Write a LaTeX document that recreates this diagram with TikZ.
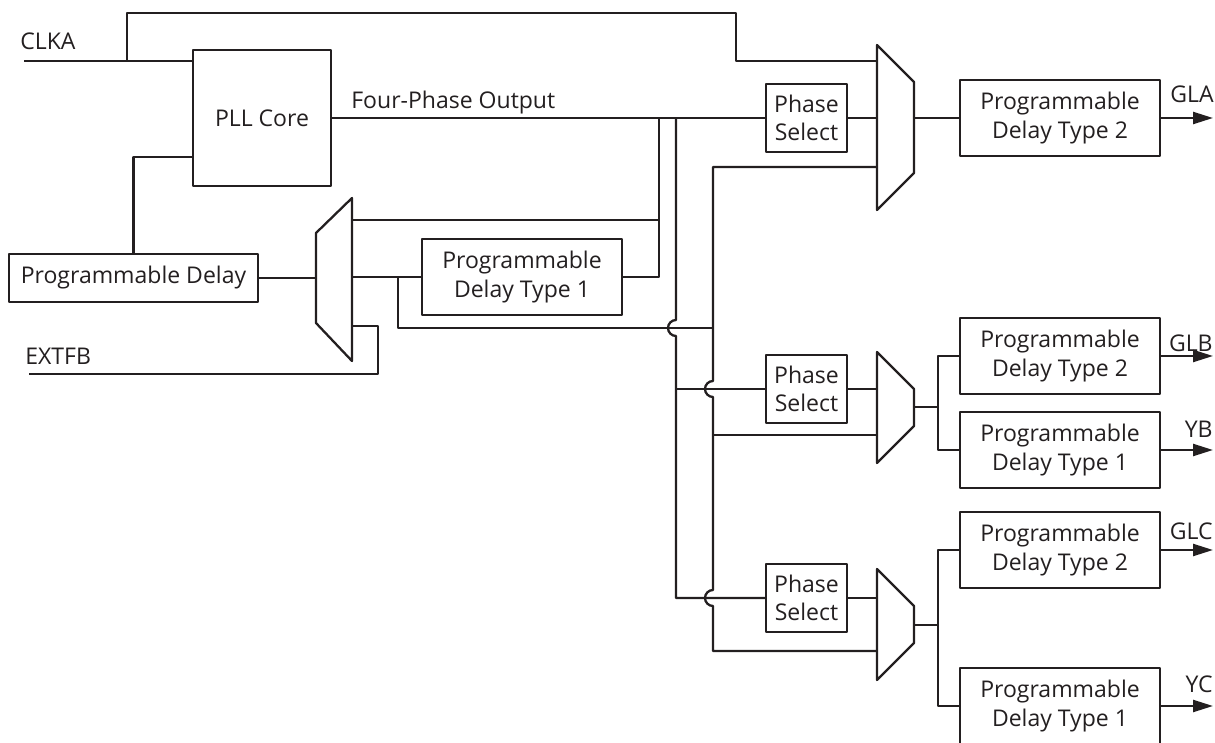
\documentclass[tikz,border=0pt]{standalone}
\usepackage{fontspec}
\setmainfont{Open Sans}
\usetikzlibrary{arrows.meta,calc}
\definecolor{ink}{RGB}{35,31,32}
\tikzset{
  blk/.style={draw=ink, line width=1.3pt, align=center, inner sep=0pt, text=ink,
    font=\fontsize{13.1}{16}\selectfont},
  pdt/.style={blk, minimum width=4cm, minimum height=1.52cm},
  phs/.style={blk, minimum width=1.62cm, minimum height=1.36cm},
  wire/.style={draw=ink, line width=1.3pt},
  lbl/.style={text=ink, inner sep=0pt, font=\fontsize{13.1}{16}\selectfont},
}
\begin{document}
\begin{tikzpicture}[x=0.02cm,y=-0.02cm,line join=round,>={Triangle[length=0.4cm,width=0.24cm]}]
	\useasboundingbox (0,0) rectangle (1215,743);
	%Khoi chinh
	\node[blk,minimum width=2.76cm,minimum height=2.72cm] (pll) at (262,118) {PLL Core};
	\node[blk,minimum width=4.98cm,minimum height=0.96cm] (pdel) at (133.5,278) {Programmable Delay};
	\node[pdt] (pdtfb) at (522,277) {Programmable\\ Delay Type 1};
	\node[phs] (psA) at (806.5,118) {Phase\\Select};
	\node[phs] (psB) at (806.5,389) {Phase\\Select};
	\node[phs] (psC) at (806.5,598) {Phase\\Select};
	\node[pdt] (pdtA) at (1060,118) {Programmable\\ Delay Type 2};
	\node[pdt] (pdtB2) at (1060,356) {Programmable\\ Delay Type 2};
	\node[pdt] (pdtB1) at (1060,450) {Programmable\\ Delay Type 1};
	\node[pdt] (pdtC2) at (1060,550) {Programmable\\ Delay Type 2};
	\node[pdt] (pdtC1) at (1060,706) {Programmable\\ Delay Type 1};
	%Nhan
	\node[lbl,anchor=base west] (lclka) at (20,50) {CLKA};
	\node[lbl,anchor=base west] (lext) at (25,365) {EXTFB};
	\node[lbl,anchor=base west] (lfour) at (351,109) {Four-Phase Output};
	\node[lbl,anchor=base east] (lgla) at (1214,103) {GLA};
	\node[lbl,anchor=base east] (lglb) at (1213,352) {GLB};
	\node[lbl,anchor=base east] (lyb) at (1213,438) {YB};
	\node[lbl,anchor=base east] (lglc) at (1213,540) {GLC};
	\node[lbl,anchor=base east] (lyc) at (1213,692) {YC};
	%Bo chon (mux)
	\draw[wire] (316,233) -- (352,198) -- (352,361) -- (316,323) -- cycle;
	\draw[wire] (877,45) -- (914,82) -- (914,173) -- (877,210) -- cycle;
	\draw[wire] (877,352) -- (914,389) -- (914,426) -- (877,463) -- cycle;
	\draw[wire] (877,569) -- (914,606) -- (914,643) -- (877,680) -- cycle;
	\coordinate (fbin) at (316,278);
	\coordinate (fbo1) at (352,220);
	\coordinate (fbo2) at (352,277);
	\coordinate (fbo3) at (352,326);
	\coordinate (muxA1) at (877,61);
	\coordinate (muxA3) at (877,167);
	\coordinate (muxAo) at (914,118);
	\coordinate (muxB2) at (877,435);
	\coordinate (muxBo) at (914,407);
	\coordinate (muxC2) at (877,651);
	\coordinate (muxCo) at (914,625);
	\coordinate (clka) at (24,61);
	\coordinate (extfb) at (29,374);
	\coordinate (xo) at (1213,0);
	%Day noi
	\draw[wire] (clka) -- (clka -| pll.west);
	\draw[wire] (127,61) |- (736,13) |- (muxA1);
	\draw[wire] (pdel.north) |- ([yshift=0.6cm]pll.south west);
	\draw[wire] (pdel.east) -- (fbin);
	\draw[wire] (pll.east) -- (psA.west);
	\draw[wire] (fbo1) -| (659,118);
	\draw[wire] (659,118) |- (pdtfb.east);
	\draw[wire] (fbo2) -- (pdtfb.west);
	\draw[wire] (398,277) |- (713,328);
	\draw[wire] (extfb) -| (378,326) -- (fbo3);
	\draw[wire] (676,118) -- (676,320) arc[start angle=90,end angle=270,radius=0.16cm] |- (psC.west);
	\draw[wire] (676,389) -- (psB.west);
	\draw[wire] (muxA3) -| (713,381) arc[start angle=90,end angle=270,radius=0.16cm]
		-- (713,590) arc[start angle=90,end angle=270,radius=0.16cm] |- (muxC2);
	\draw[wire] (713,435) -- (muxB2);
	\draw[wire] (psA.east) -- (psA.east -| muxA1);
	\draw[wire] (psB.east) -- (psB.east -| muxB2);
	\draw[wire] (psC.east) -- (psC.east -| muxC2);
	\draw[wire] (muxAo) -- (pdtA.west);
	\draw[wire] (muxBo) -- (938,407) coordinate (jB);
	\draw[wire] (pdtB2.west) -| (jB) |- (pdtB1.west);
	\draw[wire] (muxCo) -- (938,625) coordinate (jC);
	\draw[wire] (pdtC2.west) -| (jC) |- (pdtC1.west);
	%Loi ra
	\draw[wire,->] (pdtA.east) -- (pdtA.east -| xo);
	\draw[wire,->] (pdtB2.east) -- (pdtB2.east -| xo);
	\draw[wire,->] (pdtB1.east) -- (pdtB1.east -| xo);
	\draw[wire,->] (pdtC2.east) -- (pdtC2.east -| xo);
	\draw[wire,->] (pdtC1.east) -- (pdtC1.east -| xo);
\end{tikzpicture}
\end{document}
